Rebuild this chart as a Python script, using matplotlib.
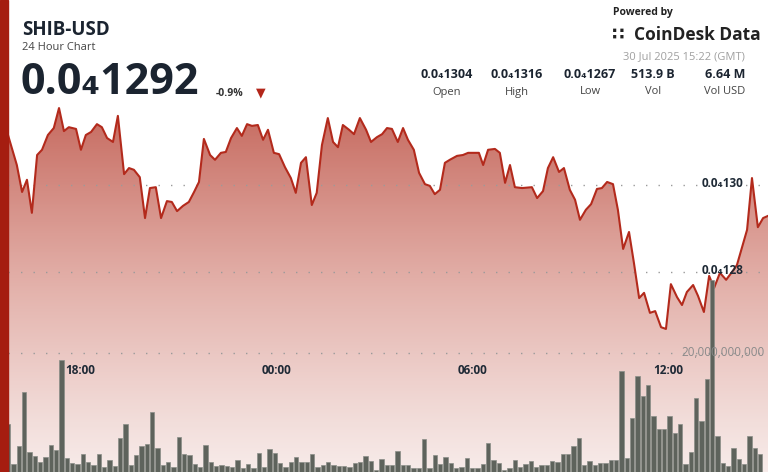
import numpy as np
import matplotlib
matplotlib.use("Agg")
import matplotlib.pyplot as plt
from matplotlib.patches import Polygon, Rectangle
from matplotlib.colors import LinearSegmentedColormap

plt.rcParams['font.family'] = ['Open Sans', 'DejaVu Sans']

# price line: time in clock hours (24 = midnight, 36 = noon next day), price in 1e-5 USD
price_t = [15.80,16.07,16.23,16.38,16.53,16.69,16.84,17.02,17.20,17.36,17.51,17.66,17.88,18.03,18.18,18.34,18.52,18.67,18.83,19.01,
           19.16,19.35,19.50,19.65,19.83,19.99,20.14,20.32,20.48,20.66,20.81,20.97,21.15,21.33,21.49,21.64,21.79,21.98,22.13,22.31,
           22.46,22.62,22.80,22.95,23.11,23.26,23.44,23.60,23.75,23.93,24.09,24.27,24.45,24.60,24.76,24.91,25.09,25.24,25.40,25.58,
           25.74,25.89,26.04,26.23,26.38,26.56,26.75,26.90,27.08,27.24,27.39,27.54,27.72,27.88,28.03,28.21,28.37,28.55,28.70,28.85,
           29.01,29.16,29.31,29.53,29.71,29.87,30.20,30.33,30.48,30.69,30.84,31.00,31.15,31.30,31.52,31.82,31.98,32.16,32.31,32.47,
           32.65,32.80,32.98,33.14,33.29,33.47,33.63,33.81,33.96,34.12,34.30,34.45,34.61,34.79,34.94,35.10,35.25,35.43,35.59,35.77,
           35.92,36.07,36.26,36.41,36.56,36.75,36.90,37.08,37.24,37.39,37.57,37.76,37.94,38.09,38.40,38.55,38.73,38.89,39.04]
price = [1.3115,1.3046,1.2984,1.3012,1.2936,1.3069,1.3081,1.3115,1.3131,1.3177,1.3124,1.3133,1.3129,1.3081,1.3115,1.3122,1.3140,1.3133,1.3108,1.3099,
         1.3159,1.3025,1.3039,1.3035,1.3018,1.2924,1.2993,1.2995,1.2924,1.2963,1.2961,1.2940,1.2952,1.2961,1.2984,1.3007,1.3106,1.3069,1.3058,1.3074,
         1.3076,1.3108,1.3131,1.3113,1.3140,1.3136,1.3138,1.3104,1.3127,1.3074,1.3071,1.3041,1.3016,1.2982,1.3051,1.3064,1.2954,1.2982,1.3092,1.3154,
         1.3099,1.3087,1.3138,1.3127,1.3117,1.3154,1.3127,1.3099,1.3110,1.3117,1.3131,1.3129,1.3099,1.3131,1.3104,1.3081,1.3028,1.3002,1.2998,1.2979,
         1.2989,1.3051,1.3058,1.3067,1.3069,1.3074,1.3074,1.3046,1.3081,1.3083,1.3074,1.3005,1.3046,1.2995,1.2993,1.2995,1.2970,1.2986,1.3039,1.3064,
         1.3030,1.3039,1.2989,1.2966,1.2920,1.2943,1.2956,1.2991,1.2993,1.3007,1.3002,1.2943,1.2853,1.2892,1.2821,1.2740,1.2752,1.2706,1.2710,1.2673,
         1.2669,1.2772,1.2742,1.2724,1.2754,1.2770,1.2745,1.2708,1.2791,1.2763,1.2798,1.2782,1.2800,1.2816,1.2897,1.3016,1.2903,1.2924,1.2929]

# volume per bar, billions of SHIB
volume = [8.1,1.3,4.4,13.4,3.4,2.7,1.7,2.6,4.6,3.7,18.9,2.3,1.5,1.3,3.0,1.7,1.1,3.0,0.9,2.1,
          1.0,5.7,8.0,1.1,2.9,4.4,4.7,10.1,4.1,1.2,1.7,0.8,5.8,3.0,2.9,1.3,0.9,4.6,1.7,1.0,
          1.2,1.0,0.9,2.1,0.6,1.3,0.6,3.2,0.8,3.8,3.2,1.5,0.9,1.6,2.6,1.7,1.6,3.0,0.9,1.2,
          1.6,1.1,1.0,1.0,0.8,1.5,1.6,2.7,1.9,0.4,2.2,
          1.2,1.2,3.5,1.1,1.1,0.6,0.7,5.5,0.7,2.9,1.3,2.6,1.5,0.6,0.9,2.4,0.6,0.6,1.3,4.9,
          2.0,1.5,0.3,0.7,2.0,0.9,1.3,1.8,0.9,1.1,1.1,1.8,1.6,3.0,3.1,4.3,5.7,1.2,1.9,1.1,
          1.5,1.5,2.0,2.0,17.0,2.4,9.1,16.1,12.8,14.6,9.4,7.3,7.2,9.4,6.6,8.0,1.3,3.4,12.5,8.5,
          15.6,32.3,6.1,1.5,1.0,4.0,2.2,1.3,6.1,4.0,3.1]
vol_t = 15.807 + np.arange(len(volume)) * 0.1631

tick_hours = [18, 24, 30, 36]
tick_labels = ["18:00", "00:00", "06:00", "12:00"]
price_grid = [1.30, 1.28]
price_grid_labels = ["0.0\u2084130", "0.0\u2084128"]
vol_grid = 20.0

W, H = 768, 472
fig = plt.figure(figsize=(W/100, H/100), dpi=100)
fig.patch.set_facecolor("white")

x0, x1 = 15.80, 39.04
ax = fig.add_axes([8/W, 0, 1 - 8/W, 1])
ax.set_xlim(x0, x1)
ylo, yhi = 1.2340, 1.34255
ax.set_ylim(ylo, yhi)
ax.axis("off")

cmap = LinearSegmentedColormap.from_list("g", ["#f7ebe9", "#e2aea7", "#c66a5f"])
grad = np.linspace(0, 1, 256).reshape(-1, 1) ** 1.1
im = ax.imshow(grad, extent=[x0, x1, ylo, 1.318], origin="lower", aspect="auto", cmap=cmap, zorder=1)
poly = Polygon(list(zip(price_t, price)) + [(price_t[-1], ylo), (price_t[0], ylo)], closed=True,
               facecolor="none", edgecolor="none")
ax.add_patch(poly)
im.set_clip_path(poly)
ax.plot(price_t, price, color="#b32a1c", lw=1.5, zorder=4, solid_joinstyle="round")

for g, lab in zip(price_grid, price_grid_labels):
    ax.plot([x0, x1], [g, g], color="#9a9a9a", lw=1, ls=(0, (1, 8)), zorder=2)
    ax.text(38.3, g + 0.0003, lab, ha="right", va="center", fontsize=8.5, fontweight="bold", color="#1f2a36", zorder=6)

axv = fig.add_axes([8/W, 0, 1 - 8/W, 1])
axv.set_xlim(x0, x1)
axv.set_ylim(0, H / 5.95)
axv.axis("off")
axv.patch.set_alpha(0)
axv.bar(vol_t, volume, width=0.13, color="#5e635c", edgecolor="#8a8e88", linewidth=0.5, zorder=3)
axv.plot([x0, x1], [vol_grid, vol_grid], color="#9a9a9a", lw=1, ls=(0, (1, 8)), zorder=2)
axv.text(38.95, vol_grid, "20,000,000,000", ha="right", va="center", fontsize=8.5, color="#8a8a8a", zorder=6)
for h, lab in zip(tick_hours, tick_labels):
    axv.text(h, vol_grid - 2.9, lab, ha="center", va="center", fontsize=8.5, fontweight="bold", color="#1f2a36", zorder=6)

fig.patches.append(Rectangle((0, 0), 8/W, 1, transform=fig.transFigure, color="#a51d10", zorder=10))

def T(x, y, s, **kw):
    fig.text(x/W, 1 - y/H, s, **kw)

T(22, 30, "SHIB-USD", fontsize=13.5, fontweight="bold", color="#1b2430", va="center")
T(22, 47, "24 Hour Chart", fontsize=8, color="#444", va="center")
T(20, 82, "0.0\u20841292", fontsize=31, fontweight="bold", color="#1b2430", va="center")
T(216, 93, "-0.9%", fontsize=7.5, fontweight="bold", color="#333", va="center")
T(261, 93, "\u25BC", fontsize=9, color="#b3261a", va="center", ha="center")

T(613, 13, "Powered by", fontsize=7.5, fontweight="bold", color="#222", va="center")
T(612, 35, "\u2237", fontsize=13, fontweight="bold", color="#222", va="center")
T(634, 35, "CoinDesk Data", fontsize=12.5, fontweight="bold", color="#222", va="center")
T(745, 57, "30 Jul 2025 15:22 (GMT)", fontsize=8, color="#a0a0a0", va="center", ha="right")

stat_x = [447, 517, 590, 653, 725]
stat_vals = ["0.0\u20841304", "0.0\u20841316", "0.0\u20841267", "513.9 B", "6.64 M"]
stat_labels = ["Open", "High", "Low", "Vol", "Vol USD"]
for x, v, l in zip(stat_x, stat_vals, stat_labels):
    T(x, 74, v, fontsize=9, fontweight="bold", color="#1b2430", ha="center", va="center")
    T(x, 92, l, fontsize=8, color="#444", ha="center", va="center")

fig.savefig("out.png", dpi=100, facecolor="white")
